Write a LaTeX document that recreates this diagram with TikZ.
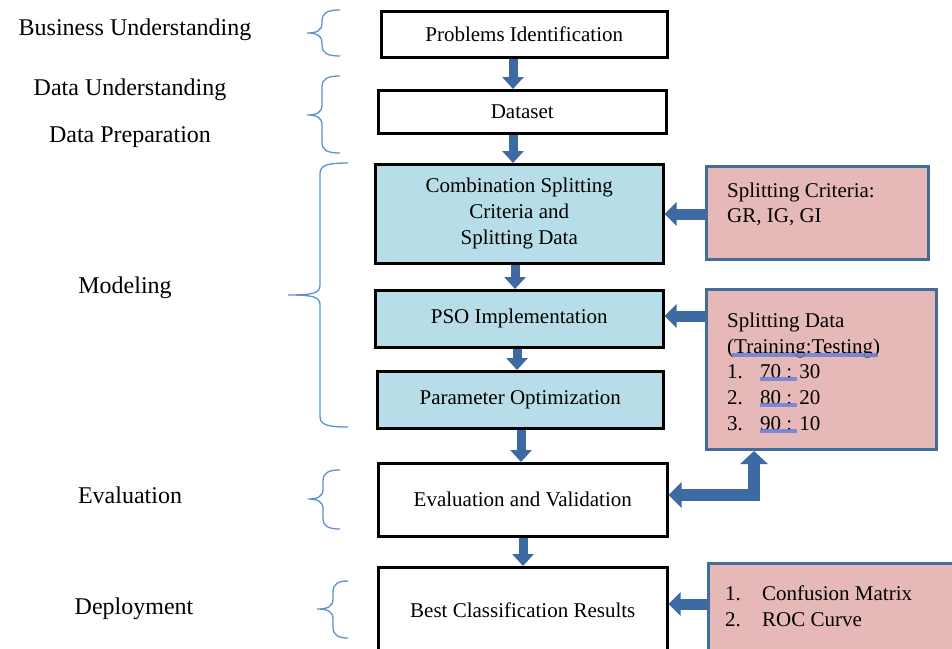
\documentclass[tikz,border=0pt]{standalone}
\usepackage{fontspec}
\setmainfont{Liberation Serif}
\usetikzlibrary{arrows.meta}
\definecolor{arrowblue}{RGB}{61,106,163}
\definecolor{bracecol}{RGB}{95,145,208}
\definecolor{pinkfill}{RGB}{230,184,183}
\definecolor{pinkborder}{RGB}{65,108,155}
\definecolor{bluefill}{RGB}{183,222,232}
\definecolor{ulcol}{RGB}{105,128,215}
\newcommand\cbrace[6]{%
  \draw[bracestyle] (#3,#4) .. controls ({#2+5},#4) and (#2,{#4+3}) .. (#2,{#4+11})
    -- (#2,{#5-10}) .. controls (#2,{#5-2}) and ({#2-6},#5) .. (#1,#5)
    .. controls ({#2-6},#5) and (#2,{#5+2}) .. (#2,{#5+10})
    -- (#2,{#6-11}) .. controls (#2,{#6-3}) and ({#2+5},#6) .. (#3,#6);}
\begin{document}
\begin{tikzpicture}[x=1pt,y=-1pt,
  every node/.style={inner sep=0pt},
  boxtxt/.style={font=\fontsize{21}{26}\selectfont},
  flowbox/.style={draw=black, line width=2.5pt, anchor=north west, align=center, boxtxt},
  bluebox/.style={flowbox, fill=bluefill},
  pinkbox/.style={draw=pinkborder, line width=3pt, fill=pinkfill, anchor=north west},
  linetxt/.style={anchor=base west, boxtxt},
  sidelabel/.style={font=\fontsize{24}{28}\selectfont},
  bracestyle/.style={draw=bracecol, line width=1.3pt},
  varrow/.style={draw=arrowblue, line width=9pt, -{Triangle[width=21pt,length=12pt]}},
  harrow/.style={draw=arrowblue, line width=11pt, -{Triangle[width=23pt,length=12pt]}},
  barrow/.style={draw=arrowblue, line width=12pt, line join=miter,
     {Triangle[width=27pt,length=13pt]}-{Triangle[width=25pt,length=13pt]}},
  ul/.style={draw=ulcol, line width=4pt, opacity=0.85}
]
\clip (0,0) rectangle (952,648);
\useasboundingbox (0,0) rectangle (952,648);
\fill[white] (0,0) rectangle (952,648);

% main flow boxes
\node[flowbox, minimum width=286, minimum height=46] (p1) at (380,10) {Problems Identification};
\node[flowbox, minimum width=288, minimum height=43] (ds) at (377,89) {Dataset};
\node[bluebox, minimum width=288, minimum height=99] (comb) at (374,163) {Combination Splitting\\Criteria and\\Splitting Data};
\node[bluebox, minimum width=288, minimum height=57] (pso) at (374,289) {PSO Implementation};
\node[bluebox, minimum width=286, minimum height=57] (par) at (376,370) {Parameter Optimization};
\node[flowbox, minimum width=289, minimum height=73] (ev) at (377,462) {Evaluation and Validation};
\node[flowbox, minimum width=289, minimum height=86] (best) at (377,566) {Best Classification Results};

% side boxes
\node[pinkbox, minimum width=222, minimum height=93] (sc) at (705,165) {};
\node[linetxt] (sc1) at (727,197) {Splitting Criteria:};
\node[linetxt] (sc2) at (727,222) {GR, IG, GI};

\node[pinkbox, minimum width=230, minimum height=160] (sd) at (705,288) {};
\node[linetxt] (sd1) at (727,327) {Splitting Data};
\node[linetxt] (sd2) at (727,353) {(Training:Testing)};
\node[linetxt] (sd3n) at (727,378) {1.};
\node[linetxt] (sd3) at (760,378) {70 : 30};
\node[linetxt] (sd4n) at (727,404) {2.};
\node[linetxt] (sd4) at (760,404) {80 : 20};
\node[linetxt] (sd5n) at (727,430) {3.};
\node[linetxt] (sd5) at (760,430) {90 : 10};
\draw[ul] (732,355) -- (878,355);
\draw[ul] (760,379) -- (797,379);
\draw[ul] (760,405) -- (797,405);
\draw[ul] (760,431) -- (797,431);

\node[pinkbox, minimum width=262, minimum height=100] (cm) at (707,562) {};
\node[linetxt] (cm1n) at (725,600) {1.};
\node[linetxt] (cm1) at (762,600) {Confusion Matrix};
\node[linetxt] (cm2n) at (725,626) {2.};
\node[linetxt] (cm2) at (762,626) {ROC Curve};

% side labels
\node[sidelabel] (lbu) at (135,30) {Business Understanding};
\node[sidelabel] (ldu) at (130,90) {Data Understanding};
\node[sidelabel] (ldp) at (130,137) {Data Preparation};
\node[sidelabel] (lmo) at (125,288) {Modeling};
\node[sidelabel] (lev) at (130,495) {Evaluation};
\node[sidelabel] (lde) at (134,609) {Deployment};

% braces
\cbrace{307}{322}{340}{10}{33}{56}
\cbrace{307}{322}{340}{76}{115}{153}
\cbrace{288}{320}{348}{163}{295}{427}
\cbrace{308}{323}{340}{470}{499}{529}
\cbrace{317}{333}{348}{581}{609}{638}

% vertical arrows
\coordinate (x1) at (513,0);
\coordinate (x2) at (513,0);
\coordinate (x3) at (515,0);
\coordinate (x4) at (517,0);
\coordinate (x5) at (521,0);
\coordinate (x6) at (523,0);
\draw[varrow] (p1.south -| x1) -- (ds.north -| x1);
\draw[varrow] (ds.south -| x2) -- (comb.north -| x2);
\draw[varrow] (comb.south -| x3) -- (pso.north -| x3);
\draw[varrow] (pso.south -| x4) -- (par.north -| x4);
\draw[varrow] (par.south -| x5) -- (ev.north -| x5);
\draw[varrow] (ev.south -| x6) -- (best.north -| x6);

% horizontal arrows
\coordinate (y1) at (0,214);
\coordinate (y2) at (0,316);
\coordinate (y3) at (0,604);
\draw[harrow] (sc.west |- y1) -- (comb.east |- y1);
\draw[harrow] (sd.west |- y2) -- (pso.east |- y2);
\draw[harrow] (cm.west |- y3) -- (best.east |- y3);

% bent double arrow
\coordinate (bend) at (754,495);
\draw[barrow] (bend |- sd.south) -- (bend) -- (ev.east |- bend);
\end{tikzpicture}
\end{document}
